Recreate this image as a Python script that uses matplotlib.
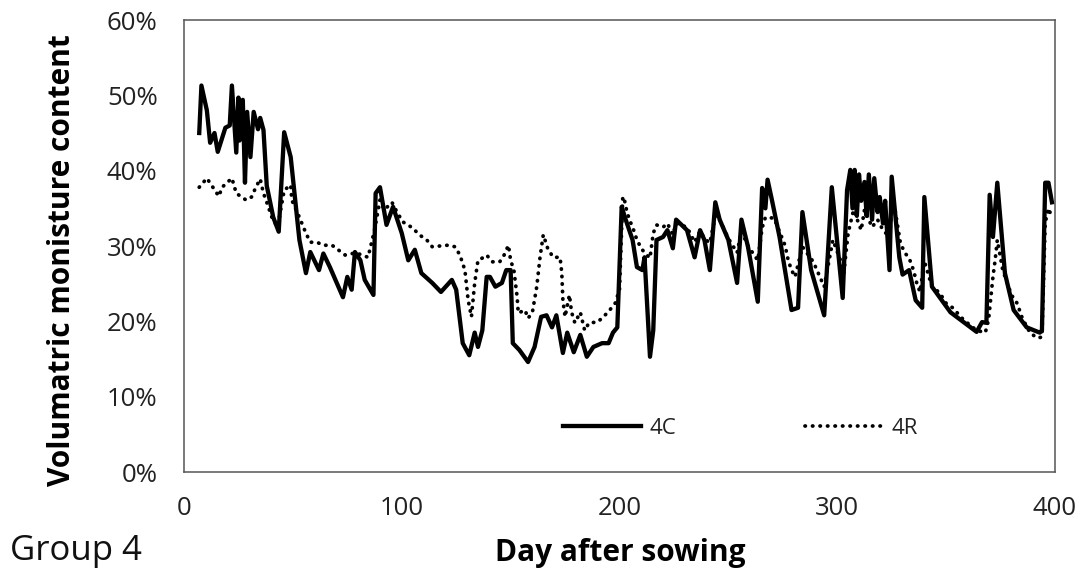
import matplotlib
matplotlib.use("Agg")
import matplotlib.pyplot as plt
from matplotlib.ticker import FuncFormatter

# ---- data ----
c4_day = [7, 8, 10.5, 12, 14, 15.5, 19, 21, 22, 24, 25, 25.5, 27, 28, 29, 30.5, 32, 34, 35, 36.5,
          38, 41, 43.5, 46, 49, 53, 56, 58, 62, 64, 67, 73, 75, 77, 78.5, 81, 83, 87, 88, 90,
          93, 96, 100, 103, 106, 109, 114, 118, 123, 125, 128, 131, 133.5, 135, 137, 139, 140.5,
          143, 146, 148, 150, 151, 154, 158, 161, 164, 166.5, 169, 171, 174, 176, 179, 182, 185,
          188, 192, 195, 197, 199, 201, 202.5, 206, 208, 210.5, 211.5, 214, 215.5, 217, 220, 222,
          224.5, 226, 231, 234.5, 237, 239, 241.5, 244, 246, 250, 254, 256, 259, 263.5, 265.5,
          267, 268, 270, 273.5, 279, 282, 284, 288, 294, 297.5, 300, 302.5, 304.5, 306, 307, 308,
          309, 310, 311, 312.5, 313.5, 314.5, 316, 317, 318.5, 319.5, 321, 322, 324, 325, 328.5,
          330, 333, 336, 339, 340, 343.5, 347, 352, 358, 364, 366.5, 368.5, 370, 371.5, 373.5,
          377, 381, 387, 393, 394, 395.5, 397, 398.6]
c4_val = [45.0, 51.3, 48, 43.7, 45, 42.5, 45.7, 46, 51.3, 42.4, 49.7, 44, 49.4, 38.4, 47.8, 41.8,
          47.8, 45.5, 47, 45.4, 38, 33.8, 31.9, 45.1, 41.8, 30.8, 26.4, 29.2, 26.8, 29, 27.2, 23.2,
          25.9, 24.2, 29.2, 28.1, 25.5, 23.5, 37, 37.8, 32.8, 35.2, 31.7, 28.1, 29.5, 26.4, 25.1,
          23.9, 25.5, 24.2, 17.1, 15.5, 18.5, 16.6, 18.8, 25.9, 25.9, 24.6, 25.1, 26.8, 26.8, 17.1,
          16.2, 14.6, 16.6, 20.6, 20.8, 19.2, 20.8, 15.8, 18.5, 15.9, 18.2, 15.3, 16.6, 17.1, 17.1,
          18.5, 19.2, 35.2, 33.8, 30.8, 27.2, 26.8, 28.5, 15.3, 18.8, 30.8, 31.2, 32.1, 29.7, 33.5,
          32.1, 28.5, 32.1, 30.8, 26.8, 35.8, 33.5, 30.8, 25.1, 33.5, 29.9, 22.6, 37.7, 35, 38.8,
          36.1, 31.2, 21.5, 21.8, 34.5, 26.8, 20.8, 37.8, 30.4, 23.1, 37.4, 40.1, 35, 40.1, 34,
          39.5, 36, 38.5, 34, 39.5, 33.5, 39, 34.5, 36.5, 33, 36, 26.8, 39.2, 28.5, 26.2, 26.8,
          22.8, 21.8, 36.5, 24.6, 23.2, 21.2, 19.9, 18.6, 19.9, 19.8, 36.8, 31.2, 38.4, 26.4, 21.5,
          19.2, 18.5, 18.8, 38.4, 38.4, 35.8]

r4_day = [7, 10.5, 13.5, 16, 17.5, 22, 24, 28.5, 31, 33, 35, 36.5, 38, 40.5, 43, 46, 49, 49.5,
          53, 56, 58, 61, 64, 68, 74, 79, 84.5, 87.5, 90, 92, 95.5, 98, 100.5, 105, 108, 111.5,
          114, 121, 124.5, 126.7, 129, 130.5, 132, 133.5, 135, 137, 139, 141.5, 145, 147, 149,
          150, 151.5, 153, 153.5, 156.6, 158, 160, 162, 163.5, 165, 167, 169.5, 172.7, 173.5, 174,
          175, 177, 178, 179.5, 182, 184, 186, 190, 194.7, 198, 200, 201.5, 202, 203.5, 205, 206.5,
          208, 210, 211.5, 214, 215.5, 217, 220, 222, 224.5, 226, 231, 234.5, 237, 239, 241.5, 244,
          246, 250, 254, 256, 259, 263.5, 265.5, 267, 271, 276, 277.5, 279, 280.6, 284, 289, 292,
          294, 298, 302, 303, 305, 307.5, 311, 312.5, 316, 318.5, 321, 324, 325.6, 329, 331, 333,
          335, 336.5, 338, 340, 343.5, 347, 350, 353, 358, 364, 368, 369.5, 371.5, 372.5, 373.5,
          376, 380, 382.6, 385, 388.5, 391.7, 394, 395.5, 397, 398.6]
r4_val = [37.8, 39, 37.7, 36.6, 37.8, 39, 37, 36.1, 36.5, 37.8, 38.9, 37, 35.8, 33.7, 32.5, 37.4,
          38.1, 36.1, 33.8, 31.7, 30.5, 30.5, 30.1, 30.1, 28.8, 29.1, 28.5, 32.1, 36.1, 34.8, 35.8,
          34.4, 33.2, 32.4, 31.5, 30.8, 29.9, 30.1, 29.9, 28.8, 26.8, 22.8, 20.6, 25.1, 28.1, 28.4,
          28.8, 27.9, 27.9, 28.8, 30.1, 28.1, 26.8, 23.2, 21.1, 21.5, 20.4, 21.2, 24.6, 28.5, 31.5,
          29.7, 28.5, 28.5, 26.4, 22.8, 20.6, 23.5, 21.2, 19.8, 21.2, 18.8, 19.8, 19.9, 21.2, 22.4,
          24.2, 36.5, 36.5, 34.4, 33.2, 32.1, 30.8, 29.7, 29.1, 28.4, 31.7, 32.8, 32.5, 33, 31.5,
          33, 32.5, 30.5, 32, 31, 30.4, 34, 33.5, 31, 29.1, 32, 30, 28.1, 32.4, 33.8, 33.7, 30.1,
          28.1, 26.8, 25.9, 29.9, 27.9, 25.9, 24.6, 30.8, 27.7, 26.4, 31.7, 34.8, 32.1, 34.8, 32.5,
          33.5, 32.1, 31.2, 36.5, 30.4, 29.1, 28.4, 26.8, 25.1, 23.9, 28, 24.6, 23.8, 22.4, 21.8,
          20.2, 18.8, 18.5, 20.2, 25.9, 28.1, 30.8, 26.8, 23.5, 22.4, 20.4, 18.5, 17.8, 17.9, 33.1,
          35, 33.8]

x_ticks = [0, 100, 200, 300, 400]
y_ticks = [0, 10, 20, 30, 40, 50, 60]
series_names = ["4C", "4R"]

FONT = ["Open Sans", "DejaVu Sans"]
plt.rcParams["font.family"] = FONT

W, H = 1086, 578
fig = plt.figure(figsize=(W / 100, H / 100), dpi=100)
ax = fig.add_axes([184 / W, (H - 472) / H, (1055 - 184) / W, (472 - 20) / H])

ax.plot(c4_day, c4_val, color="black", lw=3.1, solid_joinstyle="round", label=series_names[0])
ax.plot(r4_day, r4_val, color="black", lw=2.7, linestyle=(0, (0.1, 1.9)),
        dash_capstyle="round", label=series_names[1])

ax.set_xlim(0, 400)
ax.set_ylim(0, 60)
ax.set_xticks(x_ticks)
ax.set_yticks(y_ticks)
ax.yaxis.set_major_formatter(FuncFormatter(lambda v, p: f"{int(v)}%"))
ax.tick_params(length=0, labelsize=18.5, colors="#222222")
ax.tick_params(axis="y", pad=19)
ax.tick_params(axis="x", pad=17)
for s in ax.spines.values():
    s.set_color("#555555")
    s.set_linewidth(1.1)

ax.set_ylabel("Volumatric monisture content", fontsize=21.5, fontweight="bold")
ax.yaxis.set_label_coords((62 - 184) / (1055 - 184), (472 - 260) / (472 - 20))
ax.yaxis.label.set_verticalalignment("center")
fig.text(620 / W, 1 - 553 / H, "Day after sowing", fontsize=21.5, fontweight="bold",
         ha="center", va="center")
fig.text(10 / W, 1 - 551 / H, "Group 4", fontsize=25, ha="left", va="center", color="#111111")

leg = ax.legend(loc="center left", bbox_to_anchor=(563 / W, 1 - 428 / H),
                bbox_transform=fig.transFigure, ncol=2, frameon=False, fontsize=16,
                handlelength=3.5, handletextpad=0.4, columnspacing=5.8, borderpad=0,
                borderaxespad=0)
for t in leg.get_texts():
    t.set_color("#222222")

fig.savefig("out.png", dpi=100)
